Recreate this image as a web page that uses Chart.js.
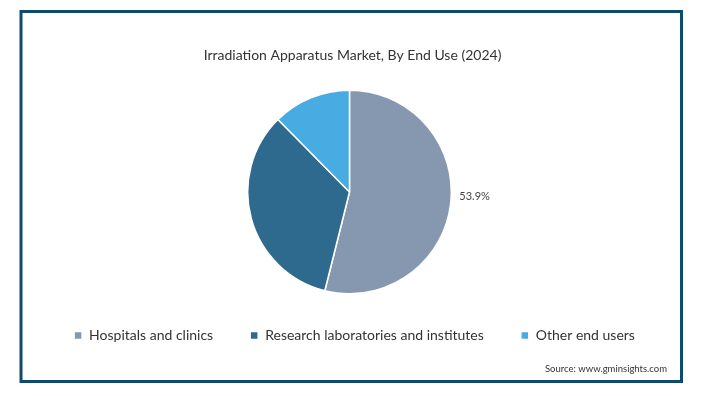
<!DOCTYPE html>
<html>
<head>
<meta charset="utf-8">
<script src="https://cdn.jsdelivr.net/npm/chart.js@4"></script>
<style>
  body { margin: 0; background: #ffffff; }
</style>
</head>
<body>
<canvas id="canvas" width="712" height="396"></canvas>
<script>
// datos del grafico
const categorias = ["Hospitals and clinics", "Research laboratories and institutes", "Other end users"];
const participacion = [53.9, 33.7, 12.4];
const etiquetas = ["53.9%", "", ""];
const colores = ["#8697b0", "#2e6a8d", "#48abe1"];
const titulo = "Irradiation Apparatus Market, By End Use (2024)";
const fuente = "Source: www.gminsights.com";

const FONT = "Lato";

// marco y texto de fuente
const marco = {
  id: "marco",
  beforeDraw: (chart) => {
    const ctx = chart.ctx;
    ctx.save();
    ctx.fillStyle = "#ffffff";
    ctx.fillRect(0, 0, chart.width, chart.height);
    ctx.strokeStyle = "#0f4b6c";
    ctx.lineWidth = 3;
    ctx.strokeRect(21, 11.5, 660.5, 370);
    ctx.fillStyle = "#333333";
    ctx.font = "9.5px " + FONT;
    ctx.textAlign = "right";
    ctx.textBaseline = "middle";
    ctx.fillText(fuente, 667, 369);
    ctx.restore();
  },
  afterLayout: (chart) => {
    // acomodar la leyenda
    chart.legend.top -= 3;
    chart.legend.bottom -= 3;
    chart.legend.left += 5;
    chart.legend.right += 5;
    chart.titleBlock.left += 3;
    chart.titleBlock.right += 3;
  },
};

// etiqueta de porcentaje
const etiquetaValor = {
  id: "etiquetaValor",
  afterDatasetsDraw: (chart) => {
    const ctx = chart.ctx;
    const meta = chart.getDatasetMeta(0);
    ctx.save();
    ctx.fillStyle = "#444444";
    ctx.font = "11px " + FONT;
    ctx.textAlign = "left";
    ctx.textBaseline = "middle";
    meta.data.forEach((arc, i) => {
      if (!etiquetas[i]) return;
      const { x, y, outerRadius } = arc.getProps(["x", "y", "outerRadius"], true);
      ctx.fillText(etiquetas[i], x + outerRadius + 8, y + 5);
    });
    ctx.restore();
  },
};

const ctx = document.getElementById("canvas").getContext("2d");
window.myPie = new Chart(ctx, {
  type: "pie",
  data: {
    labels: categorias,
    datasets: [
      {
        data: participacion,
        backgroundColor: colores,
        borderColor: "#ffffff",
        borderWidth: 1.5,
      },
    ],
  },
  options: {
    responsive: false,
    animation: false,
    devicePixelRatio: 1,
    layout: {
      padding: { top: 0, left: 0, right: 13, bottom: 40.5 },
    },
    plugins: {
      title: {
        display: true,
        text: titulo,
        color: "#333333",
        font: { family: FONT, size: 14, weight: "normal" },
        padding: { top: 46.6, bottom: 26 },
      },
      legend: {
        position: "bottom",
        labels: {
          color: "#333333",
          font: { family: FONT, size: 14 },
          boxWidth: 8,
          boxHeight: 8,
          padding: 37,
        },
      },
      tooltip: { enabled: false },
    },
  },
  plugins: [marco, etiquetaValor],
});
</script>
</body>
</html>
